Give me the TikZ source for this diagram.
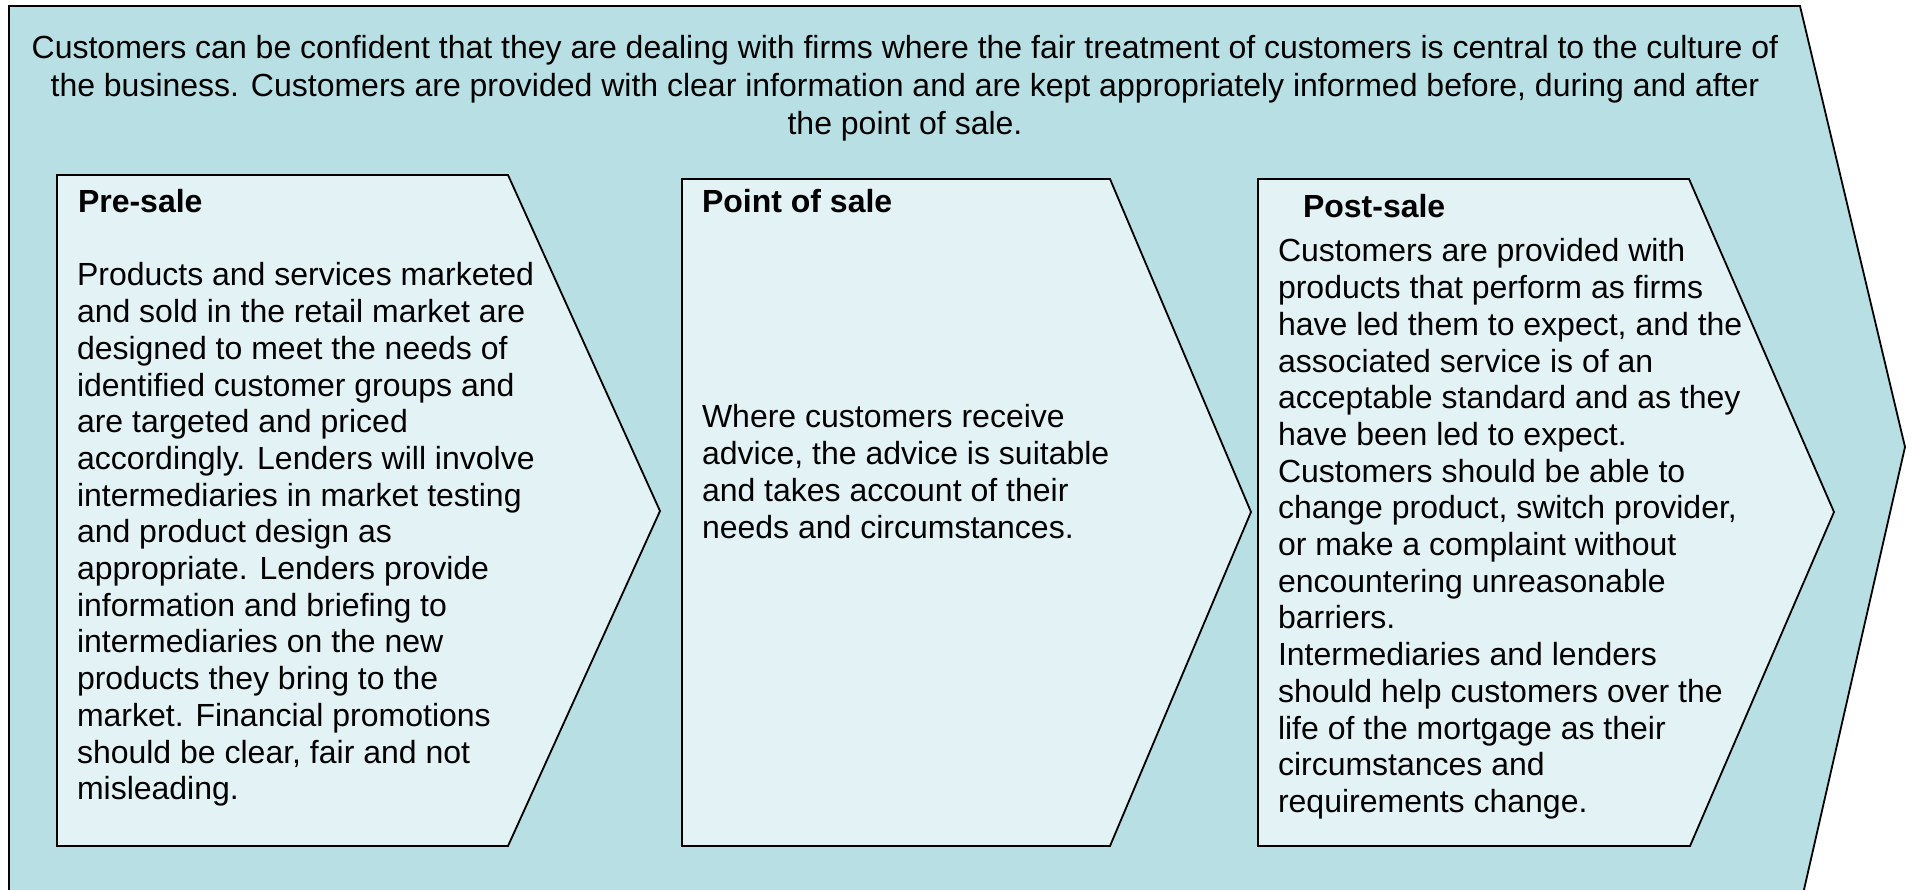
\documentclass[tikz,border=0pt]{standalone}
\usepackage{fontspec}
\setmainfont{Liberation Sans}
\definecolor{outerC}{RGB}{184,223,227}
\definecolor{innerC}{RGB}{226,242,245}
\newcommand{\bodysize}{\fontsize{32}{36.7}\selectfont}
\newcommand{\topsize}{\fontsize{32}{38}\selectfont}
\tikzset{
  outershape/.style={fill=outerC, draw=black, line width=1.8pt, line join=miter},
  innershape/.style={fill=innerC, draw=black, line width=1.8pt, line join=miter},
  bodytext/.style={anchor=north west, inner sep=0pt, outer sep=0pt, align=left, font=\bodysize},
  headtext/.style={anchor=north west, inner sep=0pt, outer sep=0pt, font=\bodysize\bfseries},
  toptext/.style={anchor=north, inner sep=0pt, outer sep=0pt, align=center, font=\topsize},
}
\begin{document}
\begin{tikzpicture}[x=1pt,y=-1pt]
\useasboundingbox (0,0) rectangle (1912,890);
\clip (0,0) rectangle (1912,890);
% outer chevron
\draw[outershape] (9,6) -- (1800,6) -- (1905,447) -- (1803,894) -- (9,894) -- cycle;
% inner chevrons
\draw[innershape] (57,175) -- (508,175) -- (660,511) -- (508,846) -- (57,846) -- cycle;
\draw[innershape] (682,179) -- (1110,179) -- (1251,512) -- (1110,846) -- (682,846) -- cycle;
\draw[innershape] (1258,179) -- (1689,179) -- (1834,512) -- (1690,846) -- (1258,846) -- cycle;
% top text
\node[toptext] (intro) at (905,32.4) {\strut Customers can be confident that they are dealing with firms where the fair treatment of customers is central to the culture of\\
the business. Customers are provided with clear information and are kept appropriately informed before, during and after\\
the point of sale.};
% pre-sale
\node[headtext] (preh) at (78,187.3) {\strut Pre-sale};
\node[bodytext] (preb) at (77,260.3) {\strut Products and services marketed\\
and sold in the retail market are\\
designed to meet the needs of\\
identified customer groups and\\
are targeted and priced\\
accordingly. Lenders will involve\\
intermediaries in market testing\\
and product design as\\
appropriate. Lenders provide\\
information and briefing to\\
intermediaries on the new\\
products they bring to the\\
market. Financial promotions\\
should be clear, fair and not\\
misleading.};
% point of sale
\node[headtext] (posh) at (702,187.3) {\strut Point of sale};
\node[bodytext] (posb) at (702,402.3) {\strut Where customers receive\\
advice, the advice is suitable\\
and takes account of their\\
needs and circumstances.};
% post-sale
\node[headtext] (posth) at (1303,192.3) {\strut Post-sale};
\node[bodytext] (postb) at (1278,236.3) {\strut Customers are provided with\\
products that perform as firms\\
have led them to expect, and the\\
associated service is of an\\
acceptable standard and as they\\
have been led to expect.\\
Customers should be able to\\
change product, switch provider,\\
or make a complaint without\\
encountering unreasonable\\
barriers.\\
Intermediaries and lenders\\
should help customers over the\\
life of the mortgage as their\\
circumstances and\\
requirements change.};
\end{tikzpicture}
\end{document}
